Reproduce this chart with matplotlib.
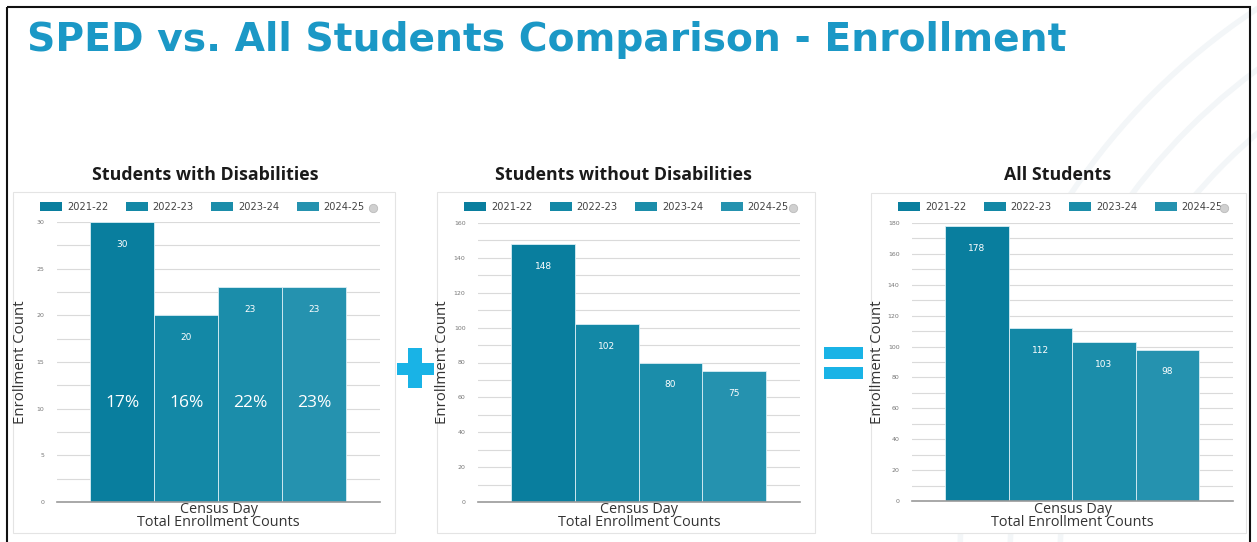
import matplotlib
matplotlib.use("Agg")
import matplotlib.pyplot as plt
from matplotlib.patches import Rectangle, Arc
from matplotlib.lines import Line2D
import numpy as np

# ---- data ----
years = ["2021-22", "2022-23", "2023-24", "2024-25"]
swd_counts = [30, 20, 23, 23]
swd_pct = ["17%", "16%", "22%", "23%"]
swod_counts = [148, 102, 80, 75]
all_counts = [178, 112, 103, 98]
panel_titles = ["Students with Disabilities", "Students without Disabilities", "All Students"]
title = "SPED vs. All Students Comparison - Enrollment"

colors = ["#097e9e", "#1388a6", "#1b8daa", "#2592af"]
ACCENT = "#19b3e6"

W, H = 1257, 542
fig = plt.figure(figsize=(W / 100, H / 100), dpi=100)
fig.patch.set_facecolor("white")


def rect(x0, y0, x1, y1):
    return [x0 / W, 1 - y1 / H, (x1 - x0) / W, (y1 - y0) / H]


# faint background arcs
bg = fig.add_axes([0, 0, 1, 1])
bg.set_xlim(0, W)
bg.set_ylim(H, 0)
bg.axis("off")
bg.set_zorder(-10)
for r in [560, 610, 660]:
    bg.add_patch(Arc((1620, 560), 2 * r, 2 * r, theta1=0, theta2=360,
                     color="#f3f6f8", lw=4))

# outer frame
bg.add_patch(Rectangle((7, 7), 1243, 545, fill=False, ec="#111111", lw=1.5))

# title
fig.text(27 / W, 1 - 40 / H, title, fontsize=28.3, fontweight="bold",
         color="#1b98c6", family="DejaVu Sans", va="center", ha="left")

panels = [
    dict(card=(13, 192, 395, 533), ax=(57, 222, 380, 502), ymax=30, major=5, minor=2.5,
         counts=swd_counts, title_x=205, ylab_x=28),
    dict(card=(437, 192, 815, 533), ax=(478, 223, 800, 502), ymax=160, major=20, minor=10,
         counts=swod_counts, title_x=623, ylab_x=450),
    dict(card=(871, 193, 1246, 533), ax=(912, 223, 1233, 501), ymax=180, major=20, minor=10,
         counts=all_counts, title_x=1058, ylab_x=885),
]

for i, p in enumerate(panels):
    cx0, cy0, cx1, cy1 = p["card"]
    bg.add_patch(Rectangle((cx0 + 1, cy0 + 1), cx1 - cx0, cy1 - cy0, fc="#e8e8e8", ec="none"))
    bg.add_patch(Rectangle((cx0, cy0), cx1 - cx0, cy1 - cy0, fc="white", ec="#e4e4e4", lw=0.8))

    fig.text(p["title_x"] / W, 1 - 175 / H, panel_titles[i], fontsize=12.8, fontweight="bold",
             color="#1a1a1a", family="Open Sans", ha="center", va="center")

    ax0, ay0, ax1, ay1 = p["ax"]
    ax = fig.add_axes(rect(ax0, ay0, ax1, ay1))
    ax.set_facecolor("none")
    x = np.arange(len(years))
    ax.bar(x, p["counts"], width=1.0, color=colors, edgecolor="#d9eef5",
           linewidth=0.6, zorder=3)
    ax.set_xlim(-1.02, 4.03)
    ax.set_ylim(0, p["ymax"])
    ax.set_yticks(np.arange(0, p["ymax"] + 0.01, p["major"]))
    ax.set_yticks(np.arange(0, p["ymax"] + 0.01, p["minor"]), minor=True)
    ax.yaxis.grid(True, which="both", color="#dadada", lw=0.8, zorder=0)
    ax.set_xticks([])
    for s in ["left", "right", "top"]:
        ax.spines[s].set_visible(False)
    ax.spines["bottom"].set_color("#9a9a9a")
    ax.spines["bottom"].set_linewidth(1.2)
    ax.spines["bottom"].set_zorder(4)
    ax.tick_params(axis="y", which="both", length=0, labelsize=4.5, labelcolor="#777777", pad=9)

    for xi, v in zip(x, p["counts"]):
        ax.annotate(str(v), (xi, v), xytext=(0, -16), textcoords="offset points",
                    ha="center", va="center", fontsize=6.5, color="white", zorder=5)

    if i == 0:
        for xi, t in zip(x, swd_pct):
            ax.text(xi, 10.6, t, ha="center", va="center", fontsize=12.5, color="white",
                    family="Open Sans", zorder=5)

    axw = ax1 - ax0
    ax.set_ylabel("Enrollment Count", fontsize=10.8, color="#333333", family="Open Sans")
    ax.yaxis.set_label_coords((p["ylab_x"] - ax0) / axw, 0.5)

    ax.text(0.5, -(516 - ay1) / (ay1 - ay0), "Census Day\nTotal Enrollment Counts",
            transform=ax.transAxes, ha="center", va="center", fontsize=10.4,
            color="#333333", linespacing=0.85, family="Open Sans")

    handles = [Rectangle((0, 0), 1, 1, fc=c) for c in colors]
    leg = ax.legend(handles, years, ncol=4, frameon=False, loc="center left",
                    bbox_to_anchor=((cx0 + 27 - ax0) / axw, 1 + (ay0 - 207) / (ay1 - ay0)),
                    fontsize=7.1, handlelength=2.25, handleheight=1.1, handletextpad=0.5,
                    columnspacing=1.75, borderpad=0, borderaxespad=0)
    for t in leg.get_texts():
        t.set_color("#444444")
    fig.add_artist(Line2D([(cx1 - 22) / W], [1 - 208 / H], marker="o", ms=6,
                          mfc="#d0d0d0", mec="#bbbbbb", mew=0.6, transform=fig.transFigure))

# plus sign
bg.add_patch(Rectangle((397, 363), 37, 12, fc=ACCENT, ec="none"))
bg.add_patch(Rectangle((408, 348), 14, 40, fc=ACCENT, ec="none"))
# equals sign
bg.add_patch(Rectangle((824, 347), 39, 12, fc=ACCENT, ec="none"))
bg.add_patch(Rectangle((824, 367), 39, 12, fc=ACCENT, ec="none"))

fig.savefig("out.png", dpi=100)
